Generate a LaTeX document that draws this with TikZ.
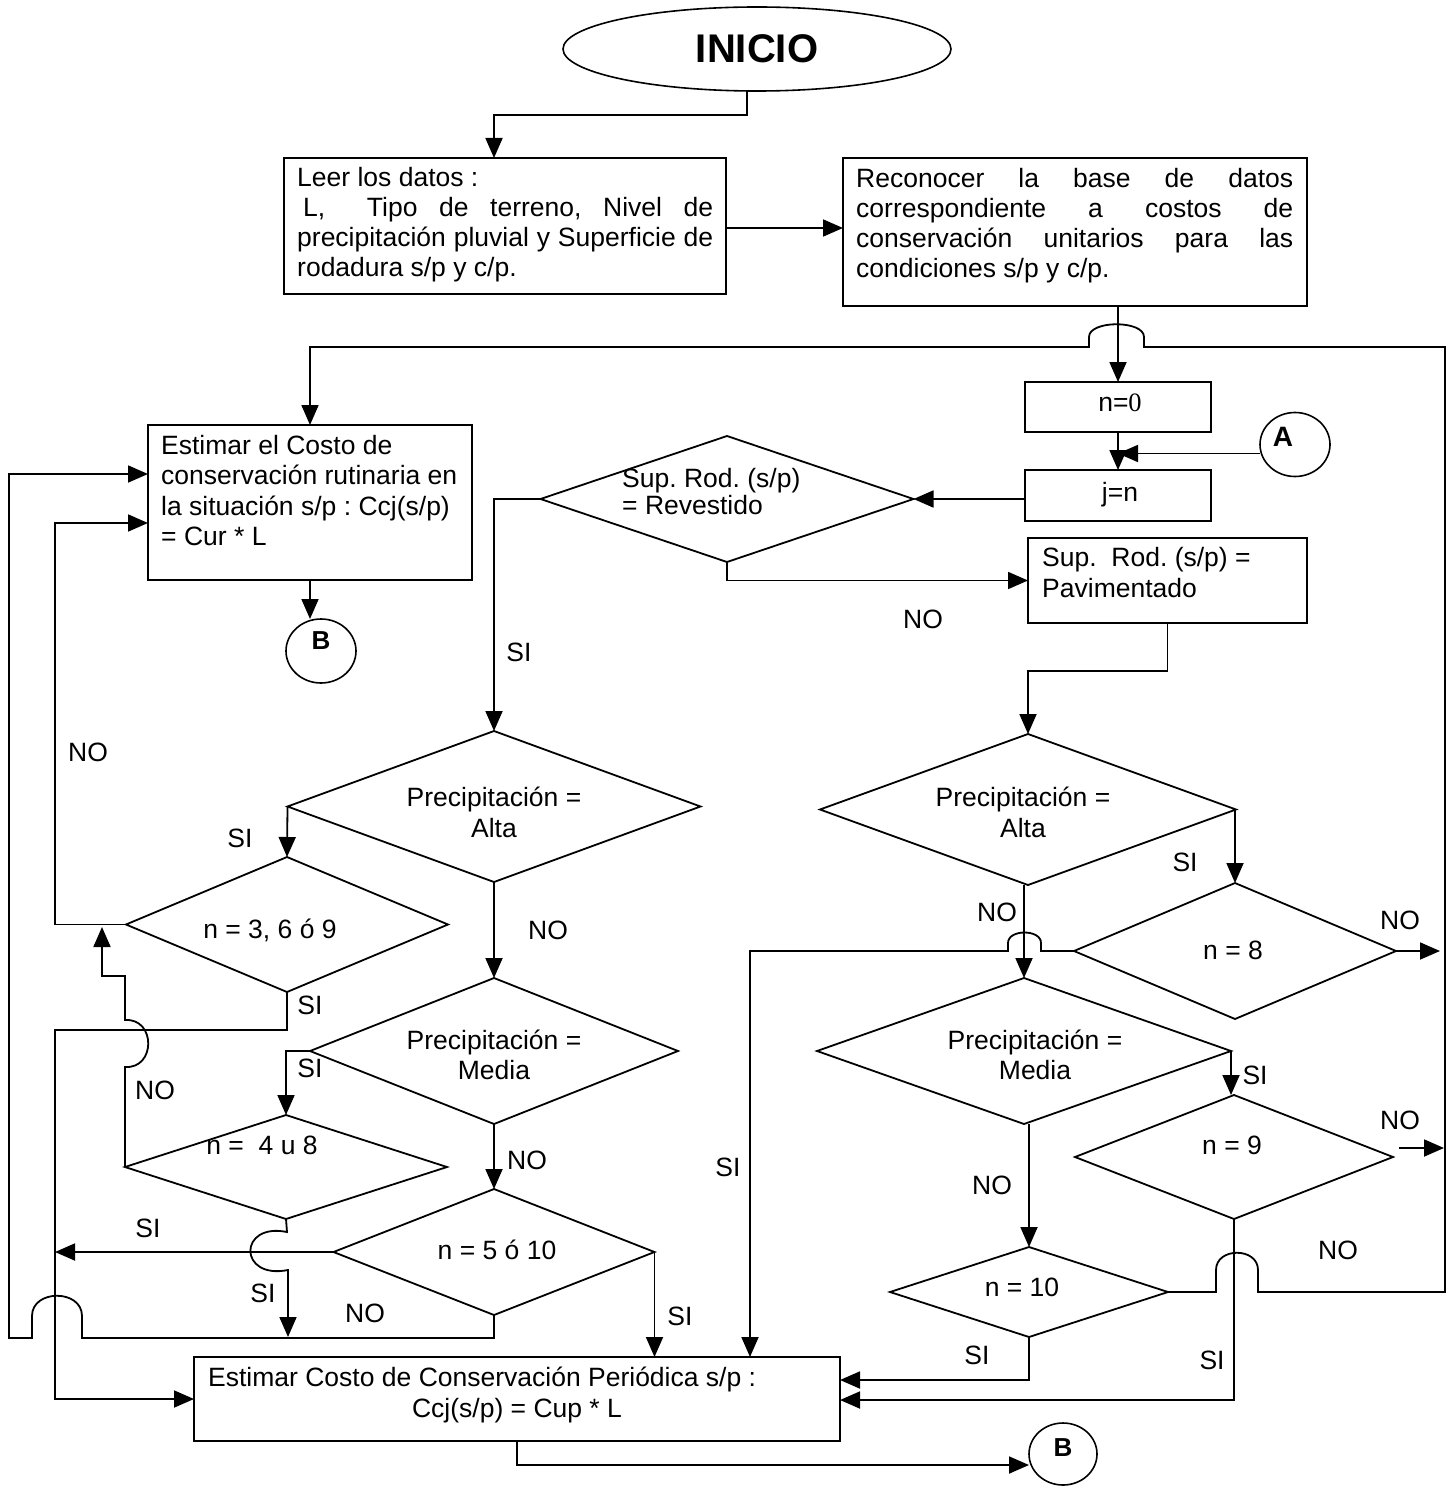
\documentclass[tikz,border=0pt]{standalone}
\usepackage{fontspec}
\setmainfont{Liberation Sans}
\newfontfamily\serifnum{Liberation Serif}
\usetikzlibrary{shapes.geometric,arrows.meta,calc}
\newcommand\mytxt[2]{\parbox[t]{#1}{\fontsize{26.5}{30}\selectfont #2}}
\frenchspacing
\begin{document}
\begin{tikzpicture}[x=1pt,y=-1pt,
  every node/.style={font=\fontsize{26.5}{30}\selectfont},
  ln/.style={line width=1.8pt},
  arr/.style={line width=1.8pt,-{Triangle[length=20pt,width=17pt]}},
  boxst/.style={draw,line width=2pt,rectangle,inner sep=0pt,outer sep=0pt},
  dia/.style={draw,line width=1.8pt,diamond,inner sep=0pt,outer sep=0pt},
  oval/.style={draw,line width=1.6pt,ellipse,inner sep=0pt,outer sep=0pt},
  lab/.style={inner sep=0pt},
  tx/.style={inner sep=0pt,anchor=base west},
  txc/.style={inner sep=0pt,anchor=base},
]
\useasboundingbox (0,0) rectangle (1448,1487);
\fill[white] (0,0) rectangle (1448,1487);

% ---------- nodes ----------
\node[oval,minimum width=388pt,minimum height=84pt] (ini) at (757,49) {\fontsize{40}{40}\selectfont\bfseries INICIO};
\node[boxst,minimum width=442pt,minimum height=136pt] (leer) at (505,226) {};
\node[boxst,minimum width=464pt,minimum height=148pt] (recon) at (1075,232) {};
\node[boxst,minimum width=186pt,minimum height=50pt] (n0) at (1118,407) {};
\node[boxst,minimum width=186pt,minimum height=51pt] (jn) at (1118,495.5) {};
\node[oval,minimum width=70pt,minimum height=64pt] (A) at (1295,444.5) {};
\node[dia,minimum width=373pt,minimum height=126pt] (srev) at (727,499) {};
\node[boxst,minimum width=279pt,minimum height=85pt] (pav) at (1167.5,580.5) {};
\node[boxst,minimum width=324pt,minimum height=155pt] (estr) at (310,502.5) {};
\node[oval,minimum width=70pt,minimum height=64pt] (B1) at (321,651) {};
\node[dia,minimum width=413pt,minimum height=151pt] (altaL) at (494,806.5) {};
\node[dia,minimum width=416pt,minimum height=151pt] (altaR) at (1028,809.5) {};
\node[dia,minimum width=322pt,minimum height=135pt] (n369) at (287,924.5) {};
\node[dia,minimum width=368pt,minimum height=146pt] (mediaL) at (494,1051) {};
\node[dia,minimum width=322pt,minimum height=104pt] (n48) at (286,1167) {};
\node[dia,minimum width=321pt,minimum height=126pt] (n510) at (494,1252) {};
\node[dia,minimum width=414pt,minimum height=146pt] (mediaR) at (1024,1051) {};
\node[dia,minimum width=322pt,minimum height=136pt] (n8) at (1235,951) {};
\node[dia,minimum width=318pt,minimum height=124pt] (n9) at (1234,1157) {};
\node[dia,minimum width=278pt,minimum height=90pt] (n10) at (1029,1292) {};
\node[boxst,minimum width=646pt,minimum height=84pt] (estp) at (517,1399) {};
\node[oval,minimum width=68pt,minimum height=62pt] (B2) at (1063,1454) {};

% ---------- texts ----------
\node[tx] (tleer) at (297,187) {\mytxt{416pt}{Leer los datos :\\
\makebox[416pt][s]{\hspace{6pt}L,\hspace{20pt} Tipo de terreno, Nivel de}\\
\makebox[416pt][s]{precipitación pluvial y Superficie de}\\
rodadura s/p y c/p.}};
\node[tx] (trecon) at (856,188) {\mytxt{437pt}{\makebox[437pt][s]{Reconocer la base de datos}\\
\makebox[437pt][s]{correspondiente a costos de}\\
\makebox[437pt][s]{conservación unitarios para las}\\
condiciones s/p y c/p.}};
\node[lab] (tn0) at (1120,403) {n={\serifnum 0}};
\node[lab] (tjn) at (1120,495) {j=n};
\node[lab] (tA) at (1283,437) {\fontsize{28}{28}\selectfont\bfseries A};
\node[tx] (tsrev) at (622,487) {\parbox[t]{210pt}{\fontsize{26.5}{27}\selectfont Sup. Rod. (s/p)\\= Revestido}};
\node[tx] (tpav) at (1042,566) {\parbox[t]{260pt}{\fontsize{26.5}{31}\selectfont Sup.\ \ Rod. (s/p) =\\Pavimentado}};
\node[tx] (testr) at (161,454) {\parbox[t]{330pt}{\fontsize{26.5}{30.5}\selectfont Estimar el Costo de\\conservación rutinaria en\\la situación s/p : Ccj(s/p)\\= Cur * L}};
\node[lab] (tB1) at (321,641) {\fontsize{26}{26}\selectfont\bfseries B};
\node[txc] (taltaL) at (494,806) {\parbox[t]{240pt}{\fontsize{26.5}{31}\selectfont\centering Precipitación =\\Alta}};
\node[txc] (taltaR) at (1023,806) {\parbox[t]{240pt}{\fontsize{26.5}{31}\selectfont\centering Precipitación =\\Alta}};
\node[txc] (tmediaL) at (494,1049) {\parbox[t]{240pt}{\fontsize{26.5}{30}\selectfont\centering Precipitación =\\Media}};
\node[txc] (tmediaR) at (1035,1049) {\parbox[t]{240pt}{\fontsize{26.5}{30}\selectfont\centering Precipitación =\\Media}};
\node[lab] (tn369) at (270,930) {n = 3, 6 ó 9};
\node[lab] (tn48) at (262,1145) {n =\ \ 4 u 8};
\node[lab] (tn510) at (497,1250) {n = 5 ó 10};
\node[lab] (tn8) at (1233,950) {n = 8};
\node[lab] (tn9) at (1232,1145) {n = 9};
\node[lab] (tn10) at (1022,1287) {n = 10};
\node[tx] (testp1) at (208,1386) {Estimar Costo de Conservación Periódica s/p :};
\node[txc] (testp2) at (517,1417) {Ccj(s/p) = Cup * L};
\node[lab] (tB2) at (1063,1448) {\fontsize{26}{26}\selectfont\bfseries B};

% branch labels
\node[lab] (l1) at (923,619) {NO};
\node[lab] (l2) at (519,652) {SI};
\node[lab] (l3) at (88,752) {NO};
\node[lab] (l4) at (240,838) {SI};
\node[lab] (l5) at (548,930) {NO};
\node[lab] (l6) at (310,1005) {SI};
\node[lab] (l7) at (310,1068) {SI};
\node[lab] (l8) at (155,1090) {NO};
\node[lab] (l9) at (527,1160) {NO};
\node[lab] (l10) at (148,1228) {SI};
\node[lab] (l11) at (263,1293) {SI};
\node[lab] (l12) at (365,1313) {NO};
\node[lab] (l13) at (680,1316) {SI};
\node[lab] (r1) at (1185,862) {SI};
\node[lab] (r2) at (997,912) {NO};
\node[lab] (r3) at (1400,920) {NO};
\node[lab] (r4) at (728,1167) {SI};
\node[lab] (r5) at (1255,1075) {SI};
\node[lab] (r6) at (1400,1120) {NO};
\node[lab] (r7) at (992,1185) {NO};
\node[lab] (r8) at (1338,1250) {NO};
\node[lab] (r9) at (977,1355) {SI};
\node[lab] (r10) at (1212,1360) {SI};

% ---------- connectors ----------
\coordinate (a1) at ([yshift=-9pt]A.west);
\coordinate (e1) at ([yshift=-2pt]leer.east);
\draw[arr] ([xshift=-10pt]ini.south) -- ++(0,24) -| ([xshift=-11pt]leer.north);
\draw[arr] (e1) -- (e1 -| recon.west);
\draw[arr] (n0.north |- recon.south) -- (n0.north);
\draw[arr] (n0.south) -- (jn.north);
\draw[arr] (a1) -- (a1 -| n0.south);
\draw[arr] (jn.west |- srev.east) -- (srev.east);
\draw[arr] (srev.south) |- (pav.west);
\draw[arr] (srev.west) -| (altaL.north);
\draw[arr] (pav.south) -- ++(0,48) -| (altaR.north);
\draw[arr] (estr.south) -- (estr.south |- B1.north);
% return loop from n = 10 (NO)
\draw[arr] (n10.east) -- (1216,1292) -- (1216,1270) .. controls (1216,1247) and (1258,1247) .. (1258,1270) -- (1258,1292) -- (1445,1292) -- (1445,347) -- (1144,347) -- (1144,337) .. controls (1144,320) and (1089,320) .. (1089,337) -- (1089,347) -- (310,347) -- (estr.north);
% left column
\draw[arr] (altaL.west) -- (n369.north);
\draw[arr] (altaL.south) -- (mediaL.north);
\draw[arr] (n369.west) -- (55,924.5) -- (55,523) -- ([yshift=-20.5pt]estr.west);
\draw[arr] (n369.south) -- (287,1030) -- (55,1030) -- (55,1399) -- (estp.west);
\draw[arr] (mediaL.west) -| (n48.north);
\draw[arr] (mediaL.south) -- (n510.north);
\draw[arr] (n48.west) -- (125,1067) .. controls (156,1069) and (156,1018) .. (125,1020) -- (125,976) -- (102,976) -- (102,927);
\draw[arr] (n48.south) -- (287,1232) .. controls (238,1222) and (238,1280) .. (288,1270) -- (288,1337);
\draw[arr] (n510.west) -- (55,1252);
\draw[arr] (n510.south) -- (494,1338) -- (82,1338) -- (82,1316) .. controls (82,1289) and (32,1289) .. (32,1316) -- (32,1338) -- (9,1338) -- (9,474) -- ([yshift=28.5pt]estr.west);
\draw[arr] (n510.east) -- (n510.east |- estp.north);
% right column
\draw[arr] (n8.north |- altaR.east) -- (n8.north);
\draw[arr] (mediaR.north |- altaR.south) -- (mediaR.north);
\draw[arr] (n8.west) -- (1041,951) -- (1041,943) .. controls (1041,929) and (1008,929) .. (1008,943) -- (1008,951) -- (750,951) -- (750,1357);
\draw[arr] (n8.east) -- ++(44,0);
\draw[arr] (mediaR.east) -- (mediaR.east |- n9.north);
\draw[arr] (n10.north |- mediaR.south) -- (n10.north);
\draw[arr] ([xshift=6pt,yshift=9pt]n9.east) -- ++(45,0);
\draw[arr] (n9.south) |- ([yshift=-1pt]estp.east);
\draw[arr] (n10.south) |- ([yshift=19pt]estp.east);
\draw[arr] (estp.south) |- ([yshift=-11pt]B2.west);
\end{tikzpicture}
\end{document}
